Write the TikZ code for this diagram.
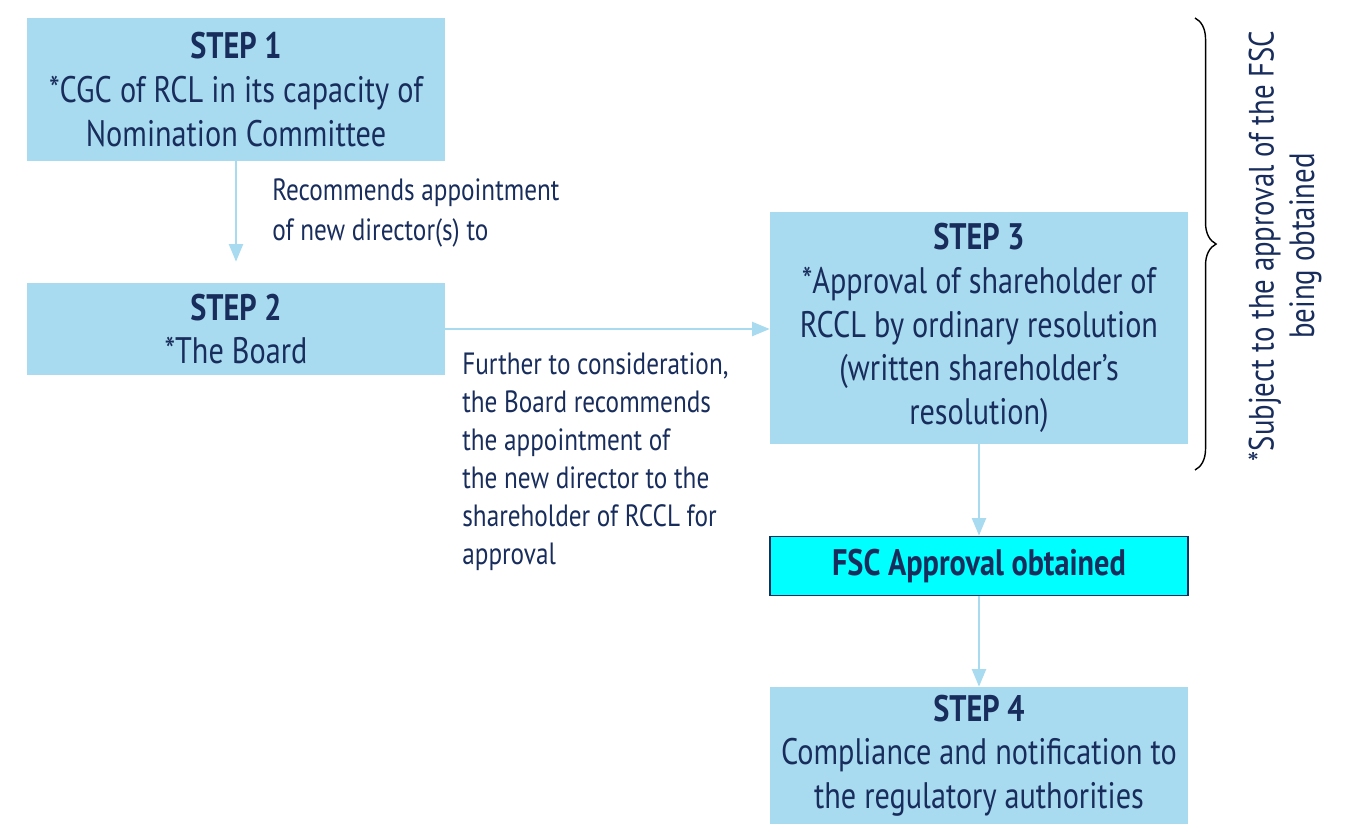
\documentclass[tikz,border=0pt]{standalone}
\usepackage{fontspec}
\setmainfont{PT Sans}[FakeStretch=0.82]
\usetikzlibrary{arrows.meta,decorations.pathreplacing}

\definecolor{boxblue}{RGB}{169,219,240}
\definecolor{navy}{RGB}{24,45,92}
\definecolor{fsccyan}{RGB}{0,255,255}

\tikzset{
  stepbox/.style={fill=boxblue,align=center,inner sep=0pt,minimum width=8.36cm,
    font=\fontsize{21}{24.8}\selectfont},
  flow/.style={draw=boxblue,line width=1.2pt,-{Triangle[width=8pt,length=10pt]}},
  note/.style={align=left,inner sep=0pt,font=\fontsize{17.5}{21.7}\selectfont},
}

\begin{document}
\begin{tikzpicture}[x=0.02cm,y=-0.02cm,every node/.style={text=navy}]
\useasboundingbox (0,0) rectangle (1350,826);

% the four steps
\node[stepbox,minimum height=2.86cm] (s1) at (236,89.5) {\textbf{STEP 1}\\*CGC of RCL in its capacity of\\Nomination Committee};
\node[stepbox,minimum height=1.84cm] (s2) at (236,329) {\textbf{STEP 2}\\*The Board};
\node[stepbox,minimum height=4.64cm] (s3) at (979,328) {\textbf{STEP 3}\\*Approval of shareholder of\\RCCL by ordinary resolution\\(written shareholder's\\resolution)};
\node[stepbox,draw=navy,line width=1pt,fill=fsccyan,minimum height=1.18cm] (fsc) at (979,566) {\textbf{FSC Approval obtained}};
\node[stepbox,minimum height=2.74cm] (s4) at (979,755.5) {\textbf{STEP 4}\\Compliance and notification to\\the regulatory authorities};

% arrows
\draw[flow,shorten >=0.42cm] (s1) -- (s2);
\draw[flow] (s2.east) -- (s3.west |- s2.east);
\draw[flow] (s3) -- (fsc);
\draw[flow] (fsc) -- (s4);

% arrow labels
\node[note,anchor=north west,font=\fontsize{17.5}{23}\selectfont] (l1) at (272,178) {Recommends appointment\\of new director(s) to};
\node[note,anchor=north west] (l2) at (462,352) {Further to consideration,\\the Board recommends\\the appointment of\\the new director to the\\shareholder of RCCL for\\approval};

% brace over steps 1 to 3
\draw[decorate,decoration={brace,amplitude=12pt},line width=0.8pt] (1195,18) -- (1195,470);
\node[note,align=center,rotate=90,font=\fontsize{20}{23}\selectfont] (cond) at (1285,246) {*Subject to the approval of the FSC\\being obtained};
\end{tikzpicture}
\end{document}
